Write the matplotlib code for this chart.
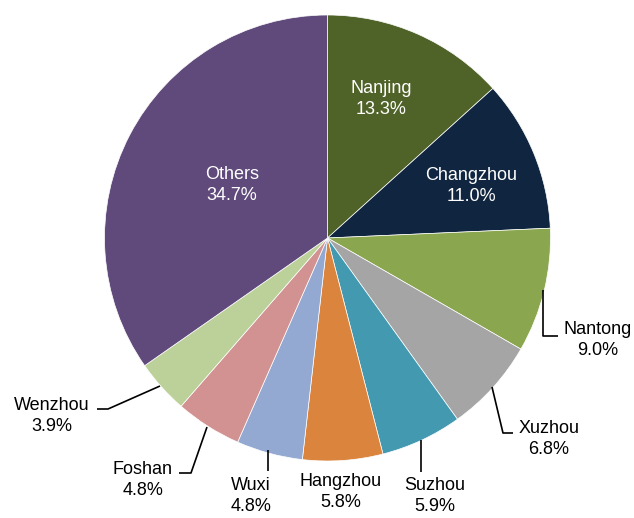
import matplotlib
matplotlib.use("Agg")
import matplotlib.pyplot as plt

plt.rcParams['font.family'] = ['Liberation Sans', 'DejaVu Sans']

categories = ["Nanjing", "Changzhou", "Nantong", "Xuzhou", "Suzhou",
              "Hangzhou", "Wuxi", "Foshan", "Wenzhou", "Others"]
values = [13.3, 11.0, 9.0, 6.8, 5.9, 5.8, 4.8, 4.8, 3.9, 34.7]
colors = ["#4F6228", "#10253F", "#8AA64F", "#A5A5A5", "#4299B0",
          "#DB843D", "#93A9D1", "#D29292", "#BCD199", "#604A7B"]

W, H = 634, 518
fig = plt.figure(figsize=(W / 100, H / 100), dpi=100)
ax = fig.add_axes([0, 0, 1, 1])

cx, cy_px, r = 327.5, 238, 223
ax.pie(values, colors=colors, startangle=90, counterclock=False,
       center=(cx, H - cy_px), radius=r, frame=True,
       wedgeprops=dict(edgecolor='white', linewidth=0.5))
ax.set_xlim(0, W)
ax.set_ylim(0, H)
ax.set_aspect('equal')
ax.axis('off')

# label positions in pixel coords (x, y from top, centre of the two-line block)
inside = {"Nanjing": (381, 99), "Changzhou": (471, 186), "Others": (232, 185)}
outside = {"Nantong": (598, 340), "Xuzhou": (549, 439), "Suzhou": (435, 496),
           "Hangzhou": (341, 492), "Wuxi": (251, 496), "Foshan": (143, 480),
           "Wenzhou": (52, 416)}

for name, v in zip(categories, values):
    txt = f"{name}\n{v:.1f}%"
    if name in inside:
        x, y = inside[name]
        col = 'white'
    else:
        x, y = outside[name]
        col = 'black'
    ax.text(x, H - y, txt, color=col, fontsize=13, ha='center',
            va='center', linespacing=1.32)

leaders = {
    "Nantong": [(543, 290), (543, 336), (558, 336)],
    "Xuzhou": [(492, 387), (503, 433), (513, 433)],
    "Suzhou": [(421, 440), (421, 472)],
    "Wuxi": [(268, 450), (268, 471)],
    "Foshan": [(207, 427), (191, 473), (179, 473)],
    "Wenzhou": [(160, 386), (108, 409), (97, 409)],
}
for pts in leaders.values():
    xs = [p[0] for p in pts]
    ys = [H - p[1] for p in pts]
    ax.plot(xs, ys, color='black', linewidth=1.2, solid_capstyle='butt')

fig.savefig("out.png", dpi=100)
